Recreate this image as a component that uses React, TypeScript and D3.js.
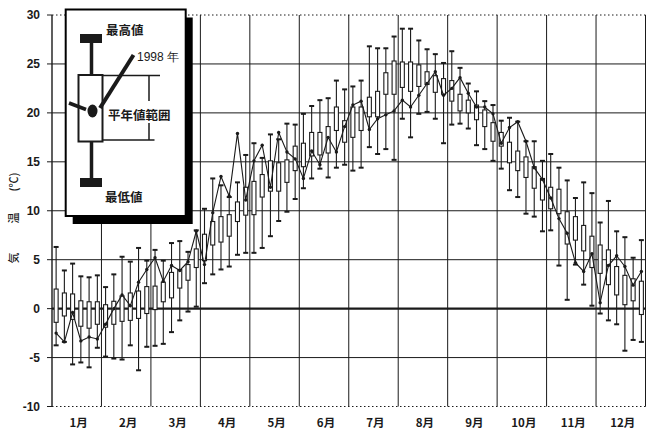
import { useEffect, useRef } from "react";
import * as d3 from "d3";

// 半旬 (5-day) statistics, 72 periods
const MONTHS = ["1月", "2月", "3月", "4月", "5月", "6月", "7月", "8月", "9月", "10月", "11月", "12月"];
const Y_TICKS = [-10, -5, 0, 5, 10, 15, 20, 25, 30];

const MAX_T = [
  6.3, 3.9, 4.6, 3.3, 3.2, 3.4, 2.2, 3.5, 5.3, 4.8, 6.2, 4.9,
  6.0, 4.9, 6.7, 6.9, 5.8, 8.0, 10.2, 13.3, 12.6, 11.4, 12.9, 15.7,
  16.9, 15.4, 17.8, 17.3, 18.9, 18.8, 19.9, 20.7, 21.3, 21.5, 23.3, 22.4,
  22.7, 23.3, 26.8, 26.6, 26.6, 27.8, 28.6, 28.6, 27.4, 26.5, 26.0, 25.1,
  26.3, 24.6, 23.0, 22.2, 21.2, 20.8, 19.2, 19.5, 19.1, 17.1, 17.1, 15.1,
  15.8, 14.4, 13.1, 11.3, 12.9, 11.8, 8.8, 11.0, 7.9, 7.3, 5.2, 7.0,
];
const HIGH_T = [
  2.0, 1.6, 1.5, 0.8, 0.7, 0.7, 0.4, 0.75, 1.3, 1.6, 1.8, 2.25,
  2.3, 2.7, 3.7, 4.0, 4.5, 6.1, 7.6, 8.9, 9.4, 9.6, 10.9, 12.4,
  13.0, 13.7, 15.1, 14.9, 15.2, 16.6, 16.9, 18.0, 18.0, 18.6, 20.6, 19.2,
  20.6, 20.6, 21.6, 22.2, 24.1, 25.3, 25.2, 25.2, 24.9, 24.2, 23.8, 23.5,
  23.3, 21.9, 21.3, 20.8, 20.3, 19.0, 18.0, 17.0, 16.1, 15.5, 14.5, 13.3,
  12.4, 12.2, 9.9, 9.4, 8.5, 7.4, 6.5, 6.0, 4.3, 3.4, 3.05, 2.8,
];
const LOW_T = [
  -1.4, -0.75, -1.1, -1.8, -2.0, -1.6, -1.9, -1.6, -1.3, -1.2, -1.0, -0.5,
  -0.1, 0.7, 1.1, 2.1, 2.9, 4.2, 4.9, 6.5, 6.8, 7.4, 8.9, 9.55,
  9.6, 11.4, 12.0, 12.0, 12.9, 14.1, 14.5, 15.6, 15.7, 15.9, 18.2, 17.0,
  17.5, 18.2, 19.6, 19.6, 21.9, 21.9, 22.6, 22.2, 22.7, 22.9, 22.1, 21.9,
  21.2, 20.2, 20.0, 19.3, 18.6, 17.1, 16.6, 14.9, 14.1, 13.4, 12.3, 11.1,
  10.2, 9.7, 6.6, 7.0, 5.9, 4.2, 3.6, 2.45, 1.4, 0.4, 0.8, -0.6,
];
const MIN_T = [
  -3.75, -3.4, -5.7, -5.5, -6.0, -4.0, -4.9, -5.1, -5.2, -3.75, -6.3, -3.9,
  -3.8, -3.6, -2.4, -1.2, -0.3, 0.2, 2.6, 3.5, 4.0, 4.3, 5.5, 5.7,
  5.7, 6.2, 7.4, 8.95, 9.9, 11.2, 12.3, 13.3, 14.3, 13.4, 14.4, 14.7,
  14.1, 14.4, 16.5, 15.8, 16.3, 15.2, 19.4, 17.5, 19.9, 20.1, 19.4, 16.9,
  18.8, 18.9, 18.4, 16.7, 16.3, 15.1, 14.3, 12.1, 11.4, 9.7, 9.4, 7.9,
  8.0, 4.4, 0.9, 4.5, 2.45, 0.3, -0.5, -1.2, -1.6, -4.3, -3.2, -3.4,
];
const Y1998 = [
  -2.5, -3.4, -0.4, -3.3, -2.9, -3.1, -1.6, 0.0, 1.4, 0.3, 2.7, 4.0,
  5.2, 2.8, 4.4, 3.9, 4.8, 7.9, 4.5, 9.8, 13.5, 11.5, 17.9, 11.1,
  15.1, 16.7, 12.4, 18.0, 16.0, 15.3, 13.3, 16.1, 14.7, 17.5, 16.0, 18.6,
  20.8, 21.2, 18.3, 19.4, 19.8, 20.2, 21.3, 20.6, 21.8, 23.0, 24.2, 21.8,
  22.5, 23.6, 22.0, 20.6, 20.6, 19.9, 16.9, 18.5, 19.1, 17.1, 14.4, 13.2,
  11.3, 9.2, 7.7, 4.7, 3.8, 5.6, 0.6, 4.4, 5.4, 4.3, 2.4, 3.8,
];

const INK = "#1a1a1a";
const NUM_FONT = "'Liberation Sans', Arial, sans-serif";
const JP_FONT = "'Noto Sans CJK JP', sans-serif";

export default function App() {
  const svgRef = useRef<SVGSVGElement>(null);

  useEffect(() => {
    const svgEl = svgRef.current;
    if (!svgEl) return;
    const svg = d3.select(svgEl);
    svg.selectAll("*").remove();

    const left = 52;
    const right = 645.5;
    const top = 15;
    const bottom = 406.5;

    const pentads = d3.range(MAX_T.length);
    const x = d3.scaleBand<number>().domain(pentads).range([left, right]);
    const xm = d3.scaleBand<string>().domain(MONTHS).range([left, right]);
    const y = d3.scaleLinear().domain([-10, 30]).range([bottom, top]);
    const cx = (i: number) => (x(i) || 0) + x.bandwidth() / 2;

    // horizontal grid
    svg
      .append("g")
      .selectAll("line")
      .data(Y_TICKS)
      .enter()
      .append("line")
      .attr("x1", left)
      .attr("x2", right)
      .attr("y1", (d) => y(d))
      .attr("y2", (d) => y(d))
      .attr("stroke", INK)
      .attr("stroke-width", (d) => (d === 0 ? 2.2 : 1))
      .attr("stroke-dasharray", (d) => (d === 30 || d === -10 ? "1.5 2.5" : null));

    // vertical grid at month boundaries
    const bounds = MONTHS.map((m) => xm(m) || 0).concat([right]);
    svg
      .append("g")
      .selectAll("line")
      .data(bounds)
      .enter()
      .append("line")
      .attr("x1", (d) => d)
      .attr("x2", (d) => d)
      .attr("y1", top)
      .attr("y2", bottom)
      .attr("stroke", INK)
      .attr("stroke-width", (d, i) => (i === 0 ? 1.4 : 1));

    // y ticks + labels
    const yAxis = svg.append("g");
    yAxis
      .selectAll("line")
      .data(Y_TICKS)
      .enter()
      .append("line")
      .attr("x1", left - 5)
      .attr("x2", left)
      .attr("y1", (d) => y(d))
      .attr("y2", (d) => y(d))
      .attr("stroke", INK);
    yAxis
      .selectAll("text")
      .data(Y_TICKS)
      .enter()
      .append("text")
      .attr("x", 40)
      .attr("y", (d) => y(d))
      .attr("dy", "0.36em")
      .attr("text-anchor", "end")
      .attr("font-family", NUM_FONT)
      .attr("font-weight", "bold")
      .attr("font-size", 12)
      .attr("fill", INK)
      .text((d) => String(d));

    // month labels
    svg
      .append("g")
      .selectAll("text")
      .data(MONTHS)
      .enter()
      .append("text")
      .attr("x", (d) => (xm(d) || 0) + xm.bandwidth() / 2 + 2)
      .attr("y", 427)
      .attr("text-anchor", "middle")
      .attr("font-family", JP_FONT)
      .attr("font-weight", "bold")
      .attr("font-size", 11.5)
      .attr("fill", INK)
      .text((d) => d);

    // y title (rotated)
    const titleParts: [string, number][] = [
      ["(℃)", 182],
      ["温", 218],
      ["気", 258],
    ];
    svg
      .append("g")
      .selectAll("text")
      .data(titleParts)
      .enter()
      .append("text")
      .attr("transform", (d) => `translate(14,${d[1]}) rotate(-90)`)
      .attr("text-anchor", "middle")
      .attr("dy", "0.35em")
      .attr("font-family", JP_FONT)
      .attr("font-weight", 500)
      .attr("font-size", 11)
      .attr("fill", INK)
      .text((d) => d[0]);

    // box plots
    const boxes = svg.append("g");
    const g = boxes.selectAll("g").data(pentads).enter().append("g");
    g.append("line")
      .attr("x1", (i) => cx(i))
      .attr("x2", (i) => cx(i))
      .attr("y1", (i) => y(MAX_T[i]))
      .attr("y2", (i) => y(MIN_T[i]))
      .attr("stroke", INK)
      .attr("stroke-width", 1.1);
    g.append("line")
      .attr("x1", (i) => cx(i) - 2.5)
      .attr("x2", (i) => cx(i) + 2.5)
      .attr("y1", (i) => y(MAX_T[i]))
      .attr("y2", (i) => y(MAX_T[i]))
      .attr("stroke", INK)
      .attr("stroke-width", 2);
    g.append("line")
      .attr("x1", (i) => cx(i) - 2.5)
      .attr("x2", (i) => cx(i) + 2.5)
      .attr("y1", (i) => y(MIN_T[i]))
      .attr("y2", (i) => y(MIN_T[i]))
      .attr("stroke", INK)
      .attr("stroke-width", 2);
    g.append("rect")
      .attr("x", (i) => cx(i) - 2)
      .attr("width", 4)
      .attr("y", (i) => y(HIGH_T[i]))
      .attr("height", (i) => y(LOW_T[i]) - y(HIGH_T[i]))
      .attr("fill", "#fff")
      .attr("stroke", INK)
      .attr("stroke-width", 1.1);

    // 1998 line
    const line = d3
      .line<number>()
      .x((i) => cx(i))
      .y((i) => y(Y1998[i]));
    svg
      .append("path")
      .datum(pentads)
      .attr("d", line)
      .attr("fill", "none")
      .attr("stroke", INK)
      .attr("stroke-width", 1.1);
    svg
      .append("g")
      .selectAll("circle")
      .data(pentads)
      .enter()
      .append("circle")
      .attr("cx", (i) => cx(i))
      .attr("cy", (i) => y(Y1998[i]))
      .attr("r", 1.7)
      .attr("fill", INK);

    // legend
    const lg = svg.append("g");
    const lx = 65.7;
    const ly = 9.5;
    const lw = 120;
    const lh = 206.5;
    lg.append("rect").attr("x", lx + 7).attr("y", ly + 8).attr("width", lw).attr("height", lh).attr("fill", "#000");
    lg.append("rect")
      .attr("x", lx)
      .attr("y", ly)
      .attr("width", lw)
      .attr("height", lh)
      .attr("fill", "#fff")
      .attr("stroke", "#000")
      .attr("stroke-width", 2);

    lg.append("rect").attr("x", 80).attr("y", 34).attr("width", 22).attr("height", 9).attr("fill", INK);
    lg.append("rect").attr("x", 80).attr("y", 178).attr("width", 22).attr("height", 9).attr("fill", INK);
    lg.append("line").attr("x1", 91.5).attr("x2", 91.5).attr("y1", 43).attr("y2", 75).attr("stroke", INK).attr("stroke-width", 3.5);
    lg.append("line").attr("x1", 91.5).attr("x2", 91.5).attr("y1", 141).attr("y2", 178).attr("stroke", INK).attr("stroke-width", 3.5);
    lg.append("rect")
      .attr("x", 78.5)
      .attr("y", 75)
      .attr("width", 24)
      .attr("height", 66.5)
      .attr("fill", "#fff")
      .attr("stroke", INK)
      .attr("stroke-width", 2);
    // 平年値範囲 bracket
    lg.append("line").attr("x1", 102.5).attr("x2", 160).attr("y1", 75.5).attr("y2", 75.5).attr("stroke", INK).attr("stroke-width", 1.5);
    lg.append("line").attr("x1", 102.5).attr("x2", 154.5).attr("y1", 140).attr("y2", 140).attr("stroke", INK).attr("stroke-width", 1.5);
    lg.append("line").attr("x1", 149).attr("x2", 149).attr("y1", 75.5).attr("y2", 101).attr("stroke", INK).attr("stroke-width", 1.5);
    lg.append("line").attr("x1", 149).attr("x2", 149).attr("y1", 123).attr("y2", 140).attr("stroke", INK).attr("stroke-width", 1.5);
    // 1998 marker and pointers
    lg.append("line").attr("x1", 69).attr("x2", 86).attr("y1", 103).attr("y2", 109.5).attr("stroke", INK).attr("stroke-width", 3.5);
    lg.append("line").attr("x1", 100).attr("x2", 133.5).attr("y1", 108).attr("y2", 55).attr("stroke", INK).attr("stroke-width", 4);
    lg.append("ellipse").attr("cx", 92.5).attr("cy", 111).attr("rx", 5).attr("ry", 6.5).attr("fill", INK);

    const legendText: [string, number, number][] = [
      ["最高値", 106, 35],
      ["1998 年", 137, 61],
      ["平年値範囲", 108, 120],
      ["最低値", 105, 201.5],
    ];
    lg.selectAll("text.lt")
      .data(legendText)
      .enter()
      .append("text")
      .attr("class", "lt")
      .attr("x", (d) => d[1])
      .attr("y", (d) => d[2])
      .attr("font-family", (d) => (d[0].startsWith("1998") ? NUM_FONT : JP_FONT))
      .attr("font-weight", (d) => (d[0].startsWith("1998") ? 500 : "bold"))
      .attr("font-size", (d) => (d[0].startsWith("1998") ? 12 : 12.5))
      .attr("fill", INK)
      .text((d) => d[0]);
  }, []);

  return (
    <>
      <style>{"body{margin:0;background:#fff}"}</style>
      <svg ref={svgRef} width={651} height={430} style={{ display: "block" }} />
    </>
  );
}
